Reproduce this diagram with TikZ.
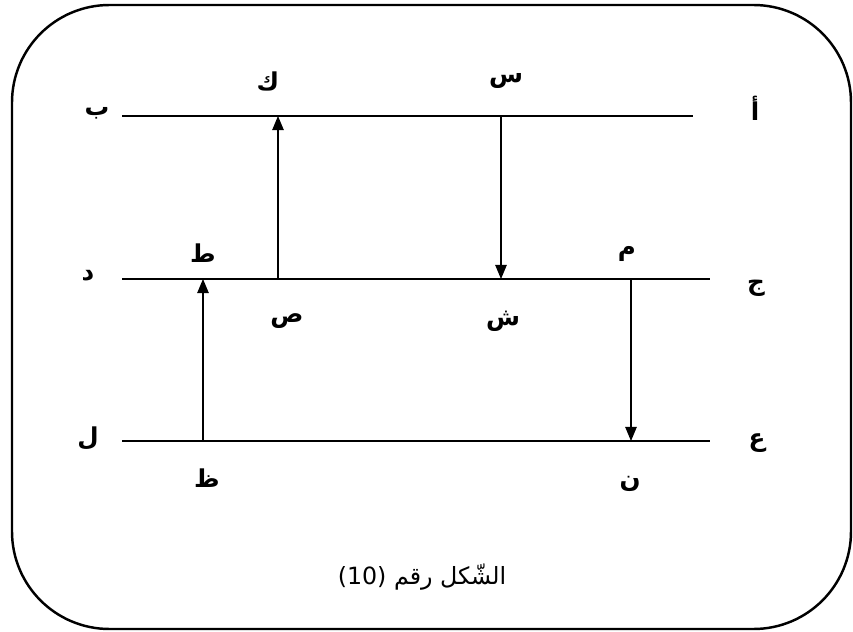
\documentclass[tikz,border=0pt]{standalone}
\usepackage{fontspec}
\setmainfont{DejaVu Sans}
\newfontfamily\arabicfont[Script=Arabic]{DejaVu Sans}
\TeXXeTstate=1
\usetikzlibrary{arrows.meta}

\begin{document}
\begin{tikzpicture}[x=0.02cm,y=-0.02cm,
  level/.style={line width=0.75pt},
  jump/.style={line width=0.75pt,-{Triangle[length=8pt,width=6.5pt]}},
  lbl/.style={font=\arabicfont\bfseries\fontsize{14}{16}\selectfont,inner sep=0pt}]
  \useasboundingbox (0,0) rectangle (853,632);
  \draw[line width=1.4pt,rounded corners=1.95cm] (12,5) rectangle (851,629);

  % level ends
  \coordinate (b1) at (122,116);
  \coordinate (a1) at (693,116);
  \coordinate (d1) at (122,279);
  \coordinate (j1) at (710,279);
  \coordinate (l1) at (122,441);
  \coordinate (e1) at (710,441);
  % arrow ends
  \coordinate (k) at (278,116);
  \coordinate (s) at (501,116);
  \coordinate (sa) at (278,279);
  \coordinate (sh) at (501,279);
  \coordinate (t) at (203,279);
  \coordinate (m) at (631,279);
  \coordinate (z) at (203,441);
  \coordinate (n) at (631,441);

  \draw[level] (b1) -- (a1);
  \draw[level] (d1) -- (j1);
  \draw[level] (l1) -- (e1);

  \draw[jump] (sa) -- (k);
  \draw[jump] (s) -- (sh);
  \draw[jump] (z) -- (t);
  \draw[jump] (m) -- (n);

  % labels
  \node[lbl] (lb) at (97,113) {ب};
  \node[lbl] (la) at (755,108) {أ};
  \node[lbl] (lk) at (268,81) {ك};
  \node[lbl] (ls) at (506,81) {س};
  \node[lbl] (lt) at (203,253) {ط};
  \node[lbl] (ld) at (88,276) {د};
  \node[lbl] (lsa) at (287,321) {ص};
  \node[lbl] (lsh) at (503,321) {ش};
  \node[lbl] (lm) at (627,254) {م};
  \node[lbl] (lj) at (756,288) {ج};
  \node[lbl] (ll) at (88,438) {ل};
  \node[lbl] (le) at (757,443) {ع};
  \node[lbl] (lz) at (207,478) {ظ};
  \node[lbl] (ln) at (630,484) {ن};

  \node[font=\fontsize{13.5}{15}\selectfont,inner sep=0pt] (cap) at (422,577)
    {(10) {\arabicfont\beginR الشّكل رقم\endR}};
\end{tikzpicture}
\end{document}
